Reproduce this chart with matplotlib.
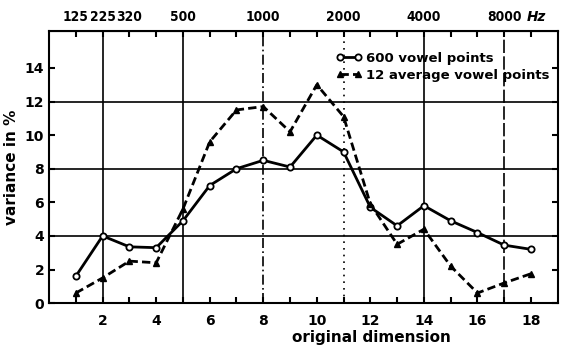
import matplotlib
matplotlib.use("Agg")
import matplotlib.pyplot as plt

# original dimension index
dims = list(range(1, 19))
# variance in % for 600 vowel points (open circles, solid line)
var_600 = [1.6, 4.0, 3.35, 3.3, 4.9, 7.0, 8.0, 8.5, 8.1, 10.0, 9.0, 5.7, 4.6, 5.8, 4.9, 4.2, 3.45, 3.2]
# variance in % for 12 average vowel points (filled triangles, dashed line)
var_12 = [0.6, 1.5, 2.5, 2.4, 5.6, 9.6, 11.5, 11.7, 10.2, 13.0, 11.1, 5.9, 3.5, 4.4, 2.2, 0.6, 1.2, 1.75]

# frequency scale along the top
freq_pos = [1, 2, 3, 5, 8, 11, 14, 17]
freq_labels = ["125", "225", "320", "500", "1000", "2000", "4000", "8000"]

plt.rcParams["font.family"] = ["DejaVu Sans"]
plt.rcParams["font.weight"] = "bold"

fig = plt.figure(figsize=(5.64, 3.48), dpi=100)
ax = fig.add_axes([0.087, 0.129, 0.902, 0.782])

ax.set_xlim(0, 19)
ax.set_ylim(0, 16.2)

# reference grid
for y in (4, 8, 12):
    ax.axhline(y, color="black", lw=1.2, zorder=1)
vstyles = {2: "-", 5: "-", 8: (0, (6, 2, 1, 2)), 11: (0, (1, 3)), 14: "-", 17: (0, (8, 2))}
for xv, ls in vstyles.items():
    ax.axvline(xv, color="black", lw=1.2, ls=ls, zorder=1)

ax.plot(dims, var_600, color="black", lw=2.0, marker="o", ms=4.5,
        mfc="white", mec="black", mew=1.3, label="600 vowel points", zorder=3)
ax.plot(dims, var_12, color="black", lw=2.0, ls=(0, (3, 1.5)), marker="^", ms=5,
        mfc="black", mec="black", label="12 average vowel points", zorder=3)

ax.set_xticks(range(2, 19, 2))
ax.set_xticks(range(1, 19), minor=True)
ax.set_yticks(range(0, 15, 2))
ax.tick_params(axis="both", which="both", direction="in", top=False, right=True,
               labelsize=10, length=4, width=1.5)
ax.tick_params(axis="x", which="major", pad=8)
for lab in ax.get_xticklabels() + ax.get_yticklabels():
    lab.set_fontweight("bold")

for sp in ax.spines.values():
    sp.set_linewidth(1.5)

top = ax.secondary_xaxis("top")
top.set_xticks(freq_pos)
top.set_xticklabels(freq_labels, fontweight="bold", fontsize=9.8, fontstretch="condensed")
top.set_xticks(range(1, 19), minor=True)
top.tick_params(which="both", direction="in", length=4, width=1.5, pad=5)
ax.text(17.85, 16.62, "Hz", fontsize=9.8, fontweight="bold", fontstyle="italic",
        ha="left", va="bottom")

ax.set_xlabel("original dimension", fontsize=11, fontweight="bold", labelpad=-3)
ax.xaxis.set_label_coords(0.633, -0.10)
ax.set_ylabel("variance in %", fontsize=11, fontweight="bold", labelpad=4)

leg = ax.legend(loc="upper right", bbox_to_anchor=(1.002, 0.958), frameon=False,
                fontsize=9.5, handlelength=2.0, handletextpad=0.3, labelspacing=0.3,
                borderpad=0.2, numpoints=2)
for t in leg.get_texts():
    t.set_fontweight("bold")

fig.savefig("out.png", dpi=100)
